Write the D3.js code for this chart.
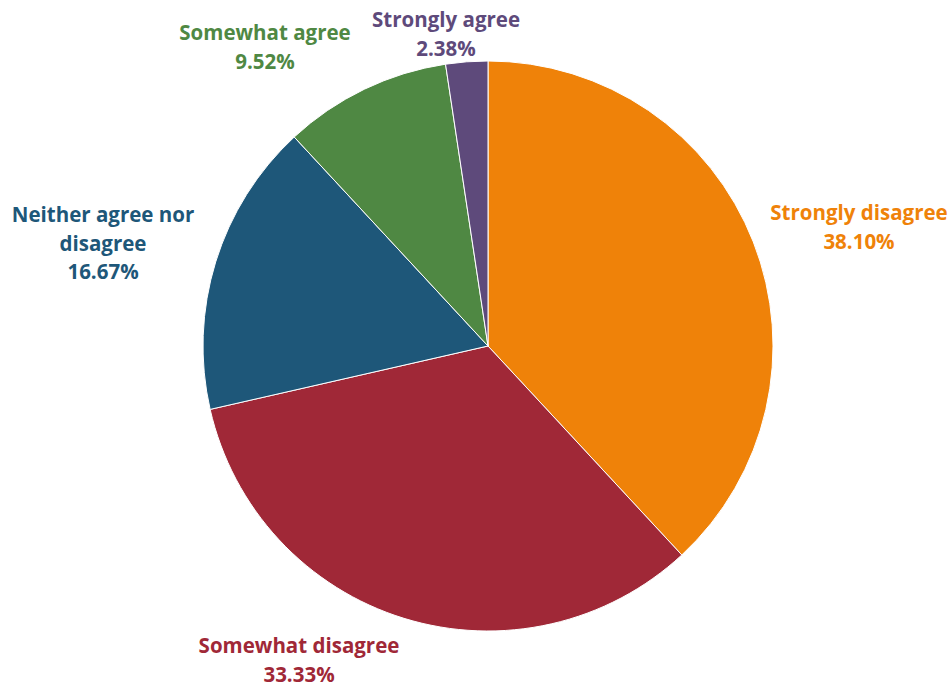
<!DOCTYPE html>
<html><head><meta charset="utf-8">
<script src="https://cdn.jsdelivr.net/npm/d3@7/dist/d3.min.js"></script>
<style>html,body{margin:0;padding:0;background:#fff}</style>
</head><body><svg id="c" width="952" height="687"></svg>
<script>
const categories = ["Strongly disagree","Somewhat disagree","Neither agree nor disagree","Somewhat agree","Strongly agree"];
const values = [38.10, 33.33, 16.67, 9.52, 2.38];
const labelLines = [["Strongly disagree"],["Somewhat disagree"],["Neither agree nor","disagree"],["Somewhat agree"],["Strongly agree"]];
const colors = ["#EF8209","#A02837","#1E5779","#4F8843","#5E4A7B"];
// label anchor offsets (relative to pie center, baseline of first line)
const labelOffsets = [[371,-126],[-189,307],[-385,-124],[-223,-306],[-42,-319]];

const svg = d3.select("#c");
const cx = 488, cy = 346, R = 285;
const g = svg.append("g").attr("transform", `translate(${cx},${cy})`);
const pie = d3.pie().sort(null).value(d => d)(values);
const arc = d3.arc().innerRadius(0).outerRadius(R);
g.selectAll("path").data(pie).join("path")
  .attr("d", arc).attr("fill", (d,i) => colors[i])
  .attr("stroke", "#fff").attr("stroke-width", 1);

const lh = 28.5;
pie.forEach((d,i) => {
  const [ox, oy] = labelOffsets[i];
  const t = g.append("text").attr("x", ox).attr("y", oy)
    .attr("text-anchor","middle").attr("fill", colors[i])
    .style("font-family","'Open Sans', Lato, sans-serif").style("font-weight","700").style("font-size","20.5px");
  const lines = labelLines[i].concat([values[i].toFixed(2) + "%"]);
  lines.forEach((s, k) => t.append("tspan").attr("x", ox).attr("dy", k === 0 ? 0 : lh).text(s));
});
</script></body></html>
